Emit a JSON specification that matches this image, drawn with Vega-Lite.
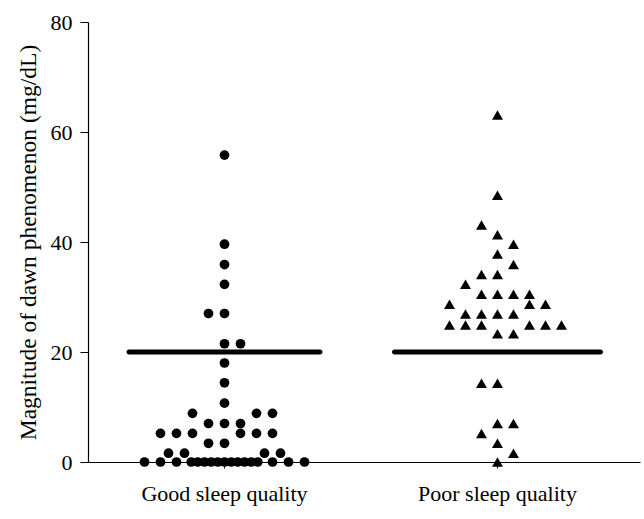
{
  "$schema": "https://vega.github.io/schema/vega-lite/v6.json",
  "width": 552,
  "height": 440,
  "autosize": {"type": "none"},
  "padding": {"left": 88, "top": 22, "right": 4, "bottom": 57},
  "background": "white",
  "config": {
    "view": {"stroke": null},
    "font": "Liberation Serif",
    "axis": {
      "labelFont": "Liberation Serif",
      "titleFont": "Liberation Serif",
      "labelColor": "black",
      "titleColor": "black",
      "domainColor": "black",
      "tickColor": "black",
      "grid": false
    }
  },
  "datasets": {
    "points": [
      {"group": "Good sleep quality", "value": 55.8, "jitter": 0},
      {"group": "Good sleep quality", "value": 39.6, "jitter": 0},
      {"group": "Good sleep quality", "value": 35.9, "jitter": 0},
      {"group": "Good sleep quality", "value": 32.3, "jitter": 0},
      {"group": "Good sleep quality", "value": 27.0, "jitter": -1},
      {"group": "Good sleep quality", "value": 27.0, "jitter": 0},
      {"group": "Good sleep quality", "value": 21.5, "jitter": 0},
      {"group": "Good sleep quality", "value": 21.5, "jitter": 1},
      {"group": "Good sleep quality", "value": 18.0, "jitter": 0},
      {"group": "Good sleep quality", "value": 14.4, "jitter": 0},
      {"group": "Good sleep quality", "value": 10.7, "jitter": 0},
      {"group": "Good sleep quality", "value": 8.85, "jitter": -2},
      {"group": "Good sleep quality", "value": 8.85, "jitter": 2},
      {"group": "Good sleep quality", "value": 8.85, "jitter": 3},
      {"group": "Good sleep quality", "value": 7.0, "jitter": -1},
      {"group": "Good sleep quality", "value": 7.0, "jitter": 0},
      {"group": "Good sleep quality", "value": 7.0, "jitter": 1},
      {"group": "Good sleep quality", "value": 5.2, "jitter": -4},
      {"group": "Good sleep quality", "value": 5.2, "jitter": -3},
      {"group": "Good sleep quality", "value": 5.2, "jitter": -2},
      {"group": "Good sleep quality", "value": 5.2, "jitter": 1},
      {"group": "Good sleep quality", "value": 5.2, "jitter": 2},
      {"group": "Good sleep quality", "value": 5.2, "jitter": 3},
      {"group": "Good sleep quality", "value": 3.4, "jitter": -1},
      {"group": "Good sleep quality", "value": 3.4, "jitter": 0},
      {"group": "Good sleep quality", "value": 1.6, "jitter": -3.5},
      {"group": "Good sleep quality", "value": 1.6, "jitter": -2.5},
      {"group": "Good sleep quality", "value": 1.6, "jitter": 2.5},
      {"group": "Good sleep quality", "value": 1.6, "jitter": 3.5},
      {"group": "Good sleep quality", "value": 0, "jitter": -5},
      {"group": "Good sleep quality", "value": 0, "jitter": -4},
      {"group": "Good sleep quality", "value": 0, "jitter": -3},
      {"group": "Good sleep quality", "value": 0, "jitter": -2.08},
      {"group": "Good sleep quality", "value": 0, "jitter": -1.67},
      {"group": "Good sleep quality", "value": 0, "jitter": -1.25},
      {"group": "Good sleep quality", "value": 0, "jitter": -0.83},
      {"group": "Good sleep quality", "value": 0, "jitter": -0.42},
      {"group": "Good sleep quality", "value": 0, "jitter": 0},
      {"group": "Good sleep quality", "value": 0, "jitter": 0.42},
      {"group": "Good sleep quality", "value": 0, "jitter": 0.83},
      {"group": "Good sleep quality", "value": 0, "jitter": 1.25},
      {"group": "Good sleep quality", "value": 0, "jitter": 1.67},
      {"group": "Good sleep quality", "value": 0, "jitter": 2.08},
      {"group": "Good sleep quality", "value": 0, "jitter": 3},
      {"group": "Good sleep quality", "value": 0, "jitter": 4},
      {"group": "Good sleep quality", "value": 0, "jitter": 5},
      {"group": "Poor sleep quality", "value": 63.1, "jitter": 0},
      {"group": "Poor sleep quality", "value": 48.5, "jitter": 0},
      {"group": "Poor sleep quality", "value": 43.1, "jitter": -1},
      {"group": "Poor sleep quality", "value": 41.3, "jitter": 0},
      {"group": "Poor sleep quality", "value": 39.6, "jitter": 1},
      {"group": "Poor sleep quality", "value": 37.8, "jitter": 0},
      {"group": "Poor sleep quality", "value": 35.9, "jitter": 1},
      {"group": "Poor sleep quality", "value": 34.1, "jitter": -1},
      {"group": "Poor sleep quality", "value": 34.1, "jitter": 0},
      {"group": "Poor sleep quality", "value": 32.3, "jitter": -2},
      {"group": "Poor sleep quality", "value": 30.5, "jitter": -1},
      {"group": "Poor sleep quality", "value": 30.5, "jitter": 0},
      {"group": "Poor sleep quality", "value": 30.5, "jitter": 1},
      {"group": "Poor sleep quality", "value": 30.5, "jitter": 2},
      {"group": "Poor sleep quality", "value": 28.7, "jitter": -3},
      {"group": "Poor sleep quality", "value": 28.7, "jitter": 2},
      {"group": "Poor sleep quality", "value": 28.7, "jitter": 3},
      {"group": "Poor sleep quality", "value": 26.9, "jitter": -2},
      {"group": "Poor sleep quality", "value": 26.9, "jitter": -1},
      {"group": "Poor sleep quality", "value": 26.9, "jitter": 0},
      {"group": "Poor sleep quality", "value": 26.9, "jitter": 1},
      {"group": "Poor sleep quality", "value": 24.9, "jitter": -3},
      {"group": "Poor sleep quality", "value": 24.9, "jitter": -2},
      {"group": "Poor sleep quality", "value": 24.9, "jitter": -1},
      {"group": "Poor sleep quality", "value": 24.9, "jitter": 2},
      {"group": "Poor sleep quality", "value": 24.9, "jitter": 3},
      {"group": "Poor sleep quality", "value": 24.9, "jitter": 4},
      {"group": "Poor sleep quality", "value": 23.3, "jitter": 0},
      {"group": "Poor sleep quality", "value": 23.3, "jitter": 1},
      {"group": "Poor sleep quality", "value": 14.3, "jitter": -1},
      {"group": "Poor sleep quality", "value": 14.3, "jitter": 0},
      {"group": "Poor sleep quality", "value": 7.0, "jitter": 0},
      {"group": "Poor sleep quality", "value": 7.0, "jitter": 1},
      {"group": "Poor sleep quality", "value": 5.2, "jitter": -1},
      {"group": "Poor sleep quality", "value": 3.4, "jitter": 0},
      {"group": "Poor sleep quality", "value": 1.6, "jitter": 1},
      {"group": "Poor sleep quality", "value": 0, "jitter": 0}
    ],
    "lines": [
      {"group": "Good sleep quality", "value": 20},
      {"group": "Poor sleep quality", "value": 20}
    ]
  },
  "encoding": {
    "x": {
      "field": "group",
      "type": "nominal",
      "scale": {"domain": ["Good sleep quality", "Poor sleep quality"], "paddingInner": 0, "paddingOuter": 0.011, "align": 0},
      "axis": {"title": null, "labelAngle": 0, "labelFontSize": 22, "labelPadding": 15, "tickSize": 6, "domainWidth": 1.2, "labelBaseline": "top"}
    },
    "y": {
      "field": "value",
      "type": "quantitative",
      "scale": {"domain": [0, 80], "nice": false, "zero": false},
      "axis": {"title": "Magnitude of dawn phenomenon (mg/dL)", "titleFontSize": 23.5, "titleFontWeight": "normal", "titlePadding": 10, "labelFontSize": 22, "values": [0, 20, 40, 60, 80], "tickSize": 8, "domainWidth": 1.2, "labelPadding": 8}
    }
  },
  "layer": [
    {
      "data": {"name": "lines"},
      "transform": [{"filter": "datum.group === 'Good sleep quality'"}],
      "mark": {"type": "tick", "color": "black", "size": 196, "thickness": 5, "opacity": 1, "cornerRadius": 2.5}
    },
    {
      "data": {"name": "lines"},
      "transform": [{"filter": "datum.group === 'Poor sleep quality'"}],
      "mark": {"type": "tick", "color": "black", "size": 211, "thickness": 5, "opacity": 1, "cornerRadius": 2.5}
    },
    {
      "data": {"name": "points"},
      "transform": [{"filter": "datum.group === 'Good sleep quality'"}],
      "mark": {"type": "point", "shape": "circle", "filled": true, "color": "black", "opacity": 1, "size": 95},
      "encoding": {
        "xOffset": {"field": "jitter", "type": "quantitative", "scale": {"domain": [-10, 10], "range": [-23.5, 296.5]}}
      }
    },
    {
      "data": {"name": "points"},
      "transform": [{"filter": "datum.group === 'Poor sleep quality'"}],
      "mark": {"type": "point", "shape": "triangle-up", "filled": true, "color": "black", "opacity": 1, "size": 120},
      "encoding": {
        "xOffset": {"field": "jitter", "type": "quantitative", "scale": {"domain": [-10, 10], "range": [-23.5, 296.5]}}
      }
    }
  ]
}
